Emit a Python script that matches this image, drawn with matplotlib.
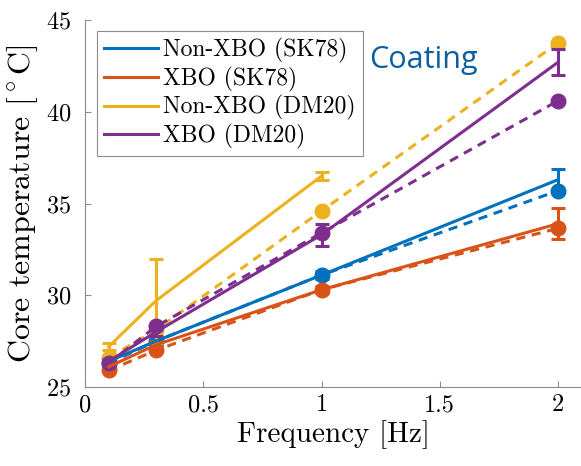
import matplotlib
matplotlib.use("Agg")
import matplotlib.pyplot as plt

plt.rcParams['font.family'] = 'cmr10'
plt.rcParams['mathtext.fontset'] = 'cm'
plt.rcParams['axes.formatter.use_mathtext'] = True

""" data read off the reference """
freq = [0.1, 0.3, 1.0, 2.0]
labels = ['Non-XBO (SK78)', 'XBO (SK78)', 'Non-XBO (DM20)', 'XBO (DM20)']
colors = ['#0072BD', '#D95319', '#EDB120', '#7E2F8E']

# measured (solid + error bars)
meas_sk78_non = [26.4, 27.5, 31.1, 36.3]
meas_sk78_xbo = [26.1, 27.3, 30.3, 33.9]
meas_dm20_non = [27.2, 29.7, 36.5]          # no 2 Hz point
meas_dm20_xbo = [26.4, 28.0, 33.3, 42.7]
err_sk78_non = [0.15, 0.2, 0.2, 0.6]
err_sk78_xbo = [0.15, 0.2, 0.2, 0.85]
err_dm20_non = [0.2, 2.3, 0.2]
err_dm20_xbo = [0.15, 0.2, 0.6, 0.7]

# simulated (dashed + markers)
sim_sk78_non = [26.3, 27.5, 31.1, 35.7]
sim_sk78_xbo = [25.9, 27.0, 30.3, 33.65]
sim_dm20_non = [26.6, 28.1, 34.6, 43.75]
sim_dm20_xbo = [26.3, 28.3, 33.4, 40.6]

meas = [meas_sk78_non, meas_sk78_xbo, meas_dm20_non, meas_dm20_xbo]
errs = [err_sk78_non, err_sk78_xbo, err_dm20_non, err_dm20_xbo]
sims = [sim_sk78_non, sim_sk78_xbo, sim_dm20_non, sim_dm20_xbo]

fig = plt.figure(figsize=(5.81, 4.66), dpi=100)
ax = fig.add_axes([0.1463, 0.1695, 0.8537, 0.7875])

handles = []
for m, e, s, c, lab in zip(meas, errs, sims, colors, labels):
    ax.plot(freq[:len(s)], s, '--', color=c, lw=2.2, marker='o', ms=10.5,
            dashes=(3, 2.2))
    h = ax.errorbar(freq[:len(m)], m, yerr=e, color=c, lw=2.2, capsize=5,
                    capthick=2.2, elinewidth=2.2, label=lab)
    handles.append(h[0])

ax.set_xlim(0, 2.097)
ax.set_ylim(25, 45)
ax.set_xticks([0, 0.5, 1, 1.5, 2])
ax.set_xticklabels(['0', '0.5', '1', '1.5', '2'])
ax.set_yticks([25, 30, 35, 40, 45])
for sp in ['top', 'right']:
    ax.spines[sp].set_visible(False)
for sp in ['left', 'bottom']:
    ax.spines[sp].set_color('#8c8c8c')
    ax.spines[sp].set_linewidth(0.8)
ax.tick_params(direction='in', length=4, color='#8c8c8c', labelsize=17.5)
ax.tick_params(axis='y', pad=10)
ax.tick_params(axis='x', pad=5)
ax.set_xlabel('Frequency [Hz]', fontsize=21, labelpad=3)
ax.set_ylabel(r'Core temperature $[^\circ\mathrm{C}]$', fontsize=23, labelpad=4)

leg = ax.legend(handles, labels, loc='upper left', bbox_to_anchor=(0.024, 0.97),
                fontsize=17, handlelength=2.3, handletextpad=0.2,
                borderaxespad=0, fancybox=False, framealpha=1,
                edgecolor='#8c8c8c', labelspacing=0.15, borderpad=0.3)
leg.get_frame().set_linewidth(0.8)

ax.text(0.5726, 0.891, 'Coating', transform=ax.transAxes, fontsize=22,
        color='#0a5fa0', family='Open Sans', va='center', ha='left')

fig.savefig('out.png', dpi=100)
